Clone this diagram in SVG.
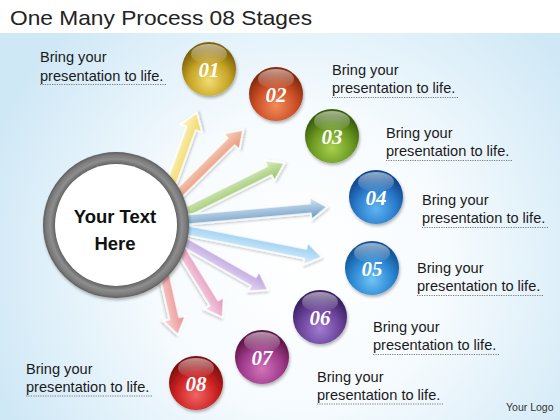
<svg xmlns="http://www.w3.org/2000/svg" width="560" height="420" viewBox="0 0 560 420">
<defs>
<style>
.lbl{font-family:"Liberation Sans",Arial,sans-serif;font-size:14.6px;fill:#1a1a1a}
.ul{stroke:#7a7a7a;stroke-width:1;stroke-dasharray:1.2 1.2}
.num{font-family:"Liberation Serif","Times New Roman",serif;font-size:21px;font-weight:bold;font-style:italic;fill:#fff;text-anchor:middle}
.arr{stroke:#ffffff;stroke-width:1.6;stroke-linejoin:round;filter:url(#sh)}
.hl{fill:url(#hl)}
.ball{filter:url(#bs)}
</style>
<radialGradient id="bg" cx="300" cy="260" r="330" gradientUnits="userSpaceOnUse">
<stop offset="0" stop-color="#ffffff"/>
<stop offset="0.45" stop-color="#f6fbfe"/>
<stop offset="1" stop-color="#cfe8f6"/>
</radialGradient>
<filter id="sh" x="-20%" y="-30%" width="140%" height="160%">
<feDropShadow dx="1" dy="1.5" stdDeviation="1.2" flood-color="#000" flood-opacity="0.22"/>
</filter>
<filter id="bs" x="-30%" y="-30%" width="160%" height="160%">
<feDropShadow dx="1" dy="2" stdDeviation="1.5" flood-color="#000" flood-opacity="0.3"/>
</filter>
<linearGradient id="hl" x1="0" y1="0" x2="0" y2="1">
<stop offset="0" stop-color="#fff" stop-opacity="0.55"/>
<stop offset="1" stop-color="#fff" stop-opacity="0.02"/>
</linearGradient>
<radialGradient id="ring" cx="116" cy="225" r="73" gradientUnits="userSpaceOnUse">
<stop offset="0.83" stop-color="#606060"/>
<stop offset="0.9" stop-color="#8e8e8e"/>
<stop offset="0.96" stop-color="#7a7a7a"/>
<stop offset="1" stop-color="#5e5e5e"/>
</radialGradient>
<radialGradient id="b1" cx="50%" cy="72%" r="62%"><stop offset="0" stop-color="#f2dc70"/><stop offset="0.6" stop-color="#c6a425"/><stop offset="1" stop-color="#7e640a"/></radialGradient>
<radialGradient id="b2" cx="50%" cy="72%" r="62%"><stop offset="0" stop-color="#f28c5c"/><stop offset="0.6" stop-color="#cc4f26"/><stop offset="1" stop-color="#862a0e"/></radialGradient>
<radialGradient id="b3" cx="50%" cy="72%" r="62%"><stop offset="0" stop-color="#a8d04c"/><stop offset="0.6" stop-color="#6c9a22"/><stop offset="1" stop-color="#3c600c"/></radialGradient>
<radialGradient id="b4" cx="50%" cy="72%" r="62%"><stop offset="0" stop-color="#60b4f2"/><stop offset="0.6" stop-color="#2a7ccc"/><stop offset="1" stop-color="#114a90"/></radialGradient>
<radialGradient id="b5" cx="50%" cy="72%" r="62%"><stop offset="0" stop-color="#70c4f6"/><stop offset="0.6" stop-color="#2c88d4"/><stop offset="1" stop-color="#145698"/></radialGradient>
<radialGradient id="b6" cx="50%" cy="72%" r="62%"><stop offset="0" stop-color="#a27cd2"/><stop offset="0.6" stop-color="#6c449c"/><stop offset="1" stop-color="#3c2064"/></radialGradient>
<radialGradient id="b7" cx="50%" cy="72%" r="62%"><stop offset="0" stop-color="#d274ba"/><stop offset="0.6" stop-color="#a03c8c"/><stop offset="1" stop-color="#62164c"/></radialGradient>
<radialGradient id="b8" cx="50%" cy="72%" r="62%"><stop offset="0" stop-color="#f26464"/><stop offset="0.6" stop-color="#cc2222"/><stop offset="1" stop-color="#821010"/></radialGradient>
<linearGradient id="a1" x1="0" y1="0" x2="0" y2="1"><stop offset="0" stop-color="#fdf6c8"/><stop offset="1" stop-color="#eed35a"/></linearGradient>
<linearGradient id="a2" x1="0" y1="0" x2="0" y2="1"><stop offset="0" stop-color="#fbd8c8"/><stop offset="1" stop-color="#e48e6e"/></linearGradient>
<linearGradient id="a3" x1="0" y1="0" x2="0" y2="1"><stop offset="0" stop-color="#e0f0c8"/><stop offset="1" stop-color="#94c266"/></linearGradient>
<linearGradient id="a4" x1="0" y1="0" x2="0" y2="1"><stop offset="0" stop-color="#d8e8f4"/><stop offset="1" stop-color="#6496c0"/></linearGradient>
<linearGradient id="a5" x1="0" y1="0" x2="0" y2="1"><stop offset="0" stop-color="#8cc8ee"/><stop offset="1" stop-color="#dcf0fc"/></linearGradient>
<linearGradient id="a6" x1="0" y1="0" x2="0" y2="1"><stop offset="0" stop-color="#b69ada"/><stop offset="1" stop-color="#e8def6"/></linearGradient>
<linearGradient id="a7" x1="0" y1="0" x2="0" y2="1"><stop offset="0" stop-color="#e090b6"/><stop offset="1" stop-color="#f8dcea"/></linearGradient>
<linearGradient id="a8" x1="0" y1="0" x2="0" y2="1"><stop offset="0" stop-color="#e68a8a"/><stop offset="1" stop-color="#fad8d4"/></linearGradient>
</defs>

<rect x="0" y="0" width="560" height="420" fill="url(#bg)"/>
<rect x="0" y="0" width="560" height="33" fill="#ffffff"/>

<g id="title">
<text x="10" y="25" font-family="'Liberation Sans',Arial,sans-serif" font-size="21" fill="#222" textLength="302" lengthAdjust="spacingAndGlyphs">One Many Process 08 Stages</text>
</g>

<g id="connectors">
<path class="arr" fill="url(#a1)" transform="translate(160,215) rotate(-70.2)" d="M0,-5 H92 V-11.5 L109,0 L92,11.5 V5 H0 Z"/>
<path class="arr" fill="url(#a2)" transform="translate(165,207) rotate(-44.6)" d="M0,-5 H93 V-11.5 L110,0 L93,11.5 V5 H0 Z"/>
<path class="arr" fill="url(#a3)" transform="translate(170,220) rotate(-26.4)" d="M0,-5 H111 V-11.5 L128,0 L111,11.5 V5 H0 Z"/>
<path class="arr" fill="url(#a4)" transform="translate(170,221) rotate(-5.1)" d="M0,-5 H141 V-11.5 L158,0 L141,11.5 V5 H0 Z"/>
<path class="arr" fill="url(#a5)" transform="translate(170,227) rotate(11.2)" d="M0,-5 H138 V-11.5 L155,0 L138,11.5 V5 H0 Z"/>
<path class="arr" fill="url(#a6)" transform="translate(170,234) rotate(29.7)" d="M0,-5 H96 V-11.5 L113,0 L96,11.5 V5 H0 Z"/>
<path class="arr" fill="url(#a7)" transform="translate(172,235) rotate(58.4)" d="M0,-5 H80 V-11.5 L97,0 L80,11.5 V5 H0 Z"/>
<path class="arr" fill="url(#a8)" transform="translate(160,255) rotate(77.3)" d="M0,-5 H65 V-11.5 L82,0 L65,11.5 V5 H0 Z"/>
</g>

<g id="hub">
<circle cx="116" cy="225" r="73" fill="url(#ring)" filter="url(#bs)"/>
<circle cx="116" cy="225" r="61" fill="#ffffff"/>
<text x="115" y="223" font-family="'Liberation Sans',Arial,sans-serif" font-size="18.5" font-weight="bold" fill="#111" text-anchor="middle">Your Text</text>
<text x="115" y="250" font-family="'Liberation Sans',Arial,sans-serif" font-size="18.5" font-weight="bold" fill="#111" text-anchor="middle">Here</text>
</g>

<g id="stage01">
<circle class="ball" cx="209" cy="69" r="27" fill="url(#b1)"/>
<ellipse class="hl" cx="209" cy="54" rx="18" ry="10"/>
<text class="num" x="209" y="77">01</text>
<text class="lbl" x="40" y="62">Bring your</text>
<text class="lbl" x="40" y="81">presentation to life.</text>
<line class="ul" x1="40" y1="84.5" x2="166" y2="84.5"/>
</g>

<g id="stage02">
<circle class="ball" cx="276" cy="94" r="27" fill="url(#b2)"/>
<ellipse class="hl" cx="276" cy="79" rx="18" ry="10"/>
<text class="num" x="276" y="102">02</text>
<text class="lbl" x="332" y="75">Bring your</text>
<text class="lbl" x="332" y="93">presentation to life.</text>
<line class="ul" x1="332" y1="97.5" x2="458" y2="97.5"/>
</g>

<g id="stage03">
<circle class="ball" cx="332" cy="136" r="27" fill="url(#b3)"/>
<ellipse class="hl" cx="332" cy="121" rx="18" ry="10"/>
<text class="num" x="332" y="144">03</text>
<text class="lbl" x="386" y="138">Bring your</text>
<text class="lbl" x="386" y="156">presentation to life.</text>
<line class="ul" x1="386" y1="160.5" x2="512" y2="160.5"/>
</g>

<g id="stage04">
<circle class="ball" cx="376" cy="197" r="27" fill="url(#b4)"/>
<ellipse class="hl" cx="376" cy="182" rx="18" ry="10"/>
<text class="num" x="376" y="205">04</text>
<text class="lbl" x="422" y="205">Bring your</text>
<text class="lbl" x="422" y="223">presentation to life.</text>
<line class="ul" x1="422" y1="227.5" x2="548" y2="227.5"/>
</g>

<g id="stage05">
<circle class="ball" cx="372" cy="268" r="27" fill="url(#b5)"/>
<ellipse class="hl" cx="372" cy="253" rx="18" ry="10"/>
<text class="num" x="372" y="276">05</text>
<text class="lbl" x="417" y="273">Bring your</text>
<text class="lbl" x="417" y="291">presentation to life.</text>
<line class="ul" x1="417" y1="295.5" x2="543" y2="295.5"/>
</g>

<g id="stage06">
<circle class="ball" cx="320" cy="317" r="27" fill="url(#b6)"/>
<ellipse class="hl" cx="320" cy="302" rx="18" ry="10"/>
<text class="num" x="320" y="325">06</text>
<text class="lbl" x="373" y="332">Bring your</text>
<text class="lbl" x="373" y="350">presentation to life.</text>
<line class="ul" x1="373" y1="354.5" x2="500" y2="354.5"/>
</g>

<g id="stage07">
<circle class="ball" cx="262" cy="357" r="27" fill="url(#b7)"/>
<ellipse class="hl" cx="262" cy="342" rx="18" ry="10"/>
<text class="num" x="262" y="365">07</text>
<text class="lbl" x="317" y="382">Bring your</text>
<text class="lbl" x="317" y="400">presentation to life.</text>
<line class="ul" x1="317" y1="404" x2="443" y2="404"/>
</g>

<g id="stage08">
<circle class="ball" cx="196" cy="383" r="27" fill="url(#b8)"/>
<ellipse class="hl" cx="196" cy="368" rx="18" ry="10"/>
<text class="num" x="196" y="391">08</text>
<text class="lbl" x="26" y="374">Bring your</text>
<text class="lbl" x="26" y="392">presentation to life.</text>
<line class="ul" x1="26" y1="396" x2="152" y2="396"/>
</g>

<g id="logo">
<text x="506" y="411" font-family="'Liberation Sans',Arial,sans-serif" font-size="10.5" fill="#333">Your Logo</text>
</g>
</svg>
